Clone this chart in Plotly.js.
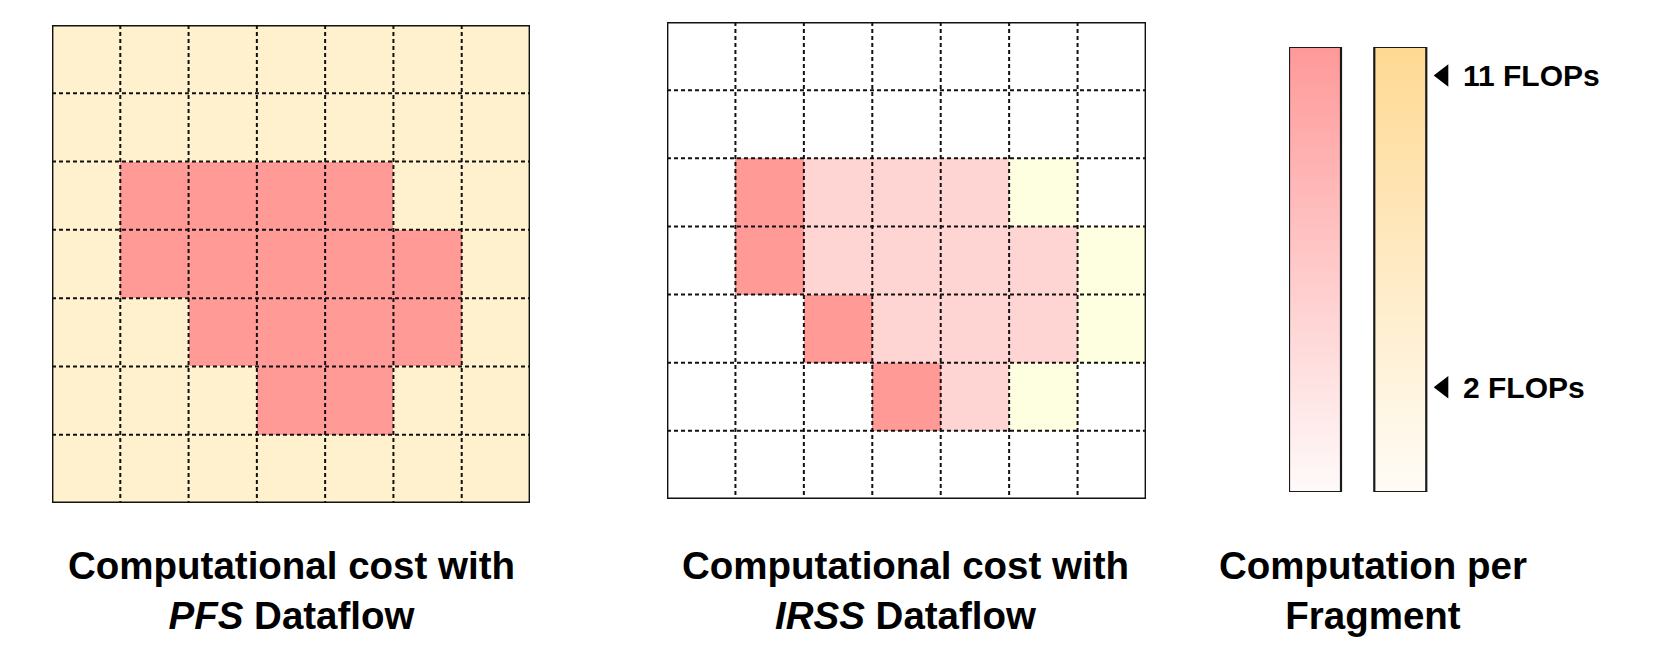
<!DOCTYPE html>
<html><head><meta charset="utf-8">
<script src="https://cdn.plot.ly/plotly-3.0.1.min.js"></script>
<style>html,body{margin:0;padding:0;background:#fff}</style>
</head><body><div id="chart" style="width:1661px;height:660px"></div>
<script>
// ---- data ----
// cell categories: 0 = not computed, 1 = light computation, 2 = dense background computation,
// 3 = reduced computation, 4 = full computation (11 FLOPs)
const categoryNames = ['none', 'light', 'background', 'reduced', 'full'];
const categoryColors = ['#FFFFFF', '#FEFEE0', '#FFF1CD', '#FFD5D4', '#FF9A97'];

// rows listed top to bottom, columns left to right
const pfsGrid = [
  [2, 2, 2, 2, 2, 2, 2],
  [2, 2, 2, 2, 2, 2, 2],
  [2, 4, 4, 4, 4, 2, 2],
  [2, 4, 4, 4, 4, 4, 2],
  [2, 2, 4, 4, 4, 4, 2],
  [2, 2, 2, 4, 4, 2, 2],
  [2, 2, 2, 2, 2, 2, 2]
];
const irssGrid = [
  [0, 0, 0, 0, 0, 0, 0],
  [0, 0, 0, 0, 0, 0, 0],
  [0, 4, 3, 3, 3, 1, 0],
  [0, 4, 3, 3, 3, 3, 1],
  [0, 0, 4, 3, 3, 3, 1],
  [0, 0, 0, 4, 3, 1, 0],
  [0, 0, 0, 0, 0, 0, 0]
];

const panelTitles = [
  '<b>Computational cost with<br><i>PFS</i> Dataflow</b>',
  '<b>Computational cost with<br><i>IRSS</i> Dataflow</b>',
  '<b>Computation per<br>Fragment</b>'
];

// colour bars (FLOPs scale)
const flopTicks = [11, 2];
const flopTickLabels = ['<b>11 FLOPs</b>', '<b>2 FLOPs</b>'];
const colorbarSpan = [-1.02, 11.82];
const redScale = [[0, '#FFFAFA'], [1, '#FF9999']];
const yellowScale = [[0, '#FFFCF6'], [1, '#FFD993']];

// ---- build ----
const n = pfsGrid.length;
const idx = [...Array(n).keys()];
const nc = categoryColors.length - 1;
const discreteScale = categoryColors.map((c, i) => [i / nc, c]);

function heat(grid, xa, ya) {
  return {
    type: 'heatmap', z: grid, x: idx, y: idx, xaxis: xa, yaxis: ya,
    zmin: 0, zmax: nc, colorscale: discreteScale, showscale: false, hoverinfo: 'skip'
  };
}

const traces = [heat(pfsGrid, 'x', 'y'), heat(irssGrid, 'x2', 'y2')];

function bar(x0, x1, scale) {
  return {
    type: 'scatter', mode: 'lines', xaxis: 'x3', yaxis: 'y3',
    x: [x0, x1, x1, x0, x0],
    y: [colorbarSpan[0], colorbarSpan[0], colorbarSpan[1], colorbarSpan[1], colorbarSpan[0]],
    fill: 'toself', fillgradient: {type: 'vertical', colorscale: scale},
    line: {color: '#1a1a1a', width: 2.2}, hoverinfo: 'skip'
  };
}
traces.push(bar(0, 1, redScale));
traces.push(bar(1.64, 2.64, yellowScale));
traces.push({
  type: 'scatter', mode: 'markers', xaxis: 'x3', yaxis: 'y3',
  x: flopTicks.map(() => 2.97), y: flopTicks,
  marker: {symbol: 'triangle-left', size: 19.5, color: '#000'},
  cliponaxis: false, hoverinfo: 'skip'
});

const shapes = [];
[['x', 'y'], ['x2', 'y2']].forEach(([xr, yr]) => {
  for (let k = 0; k < n - 1; k++) {
    const p = k + 0.5;
    shapes.push({type: 'line', xref: xr, yref: yr, x0: p, x1: p, y0: -0.5, y1: n - 0.5,
      line: {color: '#111', width: 2, dash: '4px,3px'}});
    shapes.push({type: 'line', xref: xr, yref: yr, x0: -0.5, x1: n - 0.5, y0: p, y1: p,
      line: {color: '#111', width: 2, dash: '4px,3px'}});
  }
  shapes.push({type: 'rect', xref: xr, yref: yr, x0: -0.5, x1: n - 0.5, y0: -0.5, y1: n - 0.5,
    line: {color: '#111', width: 2.8}});
});

const font = {family: 'Liberation Sans, Arial, Helvetica, sans-serif', color: '#000'};
const annotations = [];
const titleX = [291 / 1661, 906 / 1661, 1373 / 1661];
panelTitles.forEach((t, i) => annotations.push({
  xref: 'paper', yref: 'paper', x: titleX[i], y: 1 - 590 / 660, xanchor: 'center', yanchor: 'middle',
  text: t, showarrow: false, font: Object.assign({size: 38.5}, font), align: 'center'
}));
flopTicks.forEach((v, i) => annotations.push({
  xref: 'x3', yref: 'y3', x: 3.3, y: v, xanchor: 'left', yanchor: 'middle',
  text: flopTickLabels[i], showarrow: false, font: Object.assign({size: 30}, font)
}));

const hidden = {showgrid: false, zeroline: false, showticklabels: false, ticks: '', showline: false, fixedrange: true};
const layout = {
  width: 1661, height: 660, margin: {l: 0, r: 0, t: 0, b: 0},
  paper_bgcolor: '#fff', plot_bgcolor: 'rgba(0,0,0,0)', showlegend: false,
  xaxis: Object.assign({domain: [52 / 1661, 530 / 1661], range: [-0.5, n - 0.5]}, hidden),
  yaxis: Object.assign({domain: [1 - 503 / 660, 1 - 25 / 660], range: [n - 0.5, -0.5]}, hidden),
  xaxis2: Object.assign({domain: [667 / 1661, 1146 / 1661], range: [-0.5, n - 0.5]}, hidden),
  yaxis2: Object.assign({domain: [1 - 499 / 660, 1 - 22 / 660], range: [n - 0.5, -0.5]}, hidden),
  xaxis3: Object.assign({domain: [1289 / 1661, 1], range: [0, 372 / 52]}, hidden),
  yaxis3: Object.assign({domain: [1 - 492 / 660, 1 - 47 / 660], range: colorbarSpan}, hidden),
  shapes: shapes, annotations: annotations
};

Plotly.newPlot('chart', traces, layout, {displayModeBar: false, staticPlot: true});
</script>
</body></html>
